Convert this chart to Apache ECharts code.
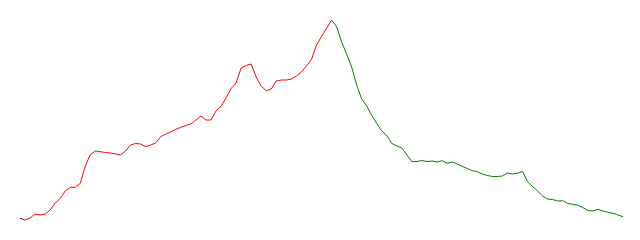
<!DOCTYPE html>
<html>
<head>
<meta charset="utf-8">
<script src="https://cdn.jsdelivr.net/npm/echarts@6/dist/echarts.min.js"></script>
<style>html,body{margin:0;padding:0;background:#fff;}#c{width:640px;height:240px;}</style>
</head>
<body>
<div id="c"></div>
<script>
// sample index (x) and value (height above the chart bottom)
const heights = [
  21.7, 20, 22, 26, 25, 26, 30, 37, 41.5, 49,
  52.7, 52.7, 56.7, 74, 85.5, 89, 88.3, 87.5, 87, 86,
  85, 89, 95, 96.5, 96, 93.3, 95, 97, 103.3, 106,
  108, 110.7, 112.7, 114.5, 116, 120, 124, 120, 120, 129,
  133.5, 142, 151.5, 157, 172, 174.5, 176, 163, 154, 149.3,
  151, 159, 160, 160, 161, 164, 168, 174, 180.5, 195,
  203.5, 211.5, 220, 213.5, 198, 186, 173, 155, 141, 134,
  124.5, 116.5, 109, 104.5, 96.5, 94, 92, 85, 78.3, 78.5,
  79.5, 78.5, 79, 78, 79.3, 76.7, 78, 76, 73.7, 71.5,
  69.3, 68.3, 66, 64.5, 63.5, 63.5, 64, 67, 66, 66.7,
  68.5, 58.5, 53.5, 49, 44, 41, 40.5, 39, 39.3, 36.5,
  35.7, 34.7, 32.5, 29.5, 29, 30.7, 29, 27.7, 26.7, 25,
  23.3
];
const peakIndex = 62;
const blueEnd = 0.4;

const data = heights.map((v, i) => [i, v]);

const chart = echarts.init(document.getElementById('c'), null, {renderer: 'canvas'});
chart.setOption({
  animation: false,
  backgroundColor: '#ffffff',
  grid: {left: 20, right: 17, top: 0, bottom: 0},
  xAxis: {type: 'value', min: 0, max: heights.length - 1, show: false},
  yAxis: {type: 'value', min: 0, max: 240, show: false},
  visualMap: {
    type: 'piecewise',
    show: false,
    dimension: 0,
    pieces: [
      {lte: blueEnd, color: '#0000ff'},
      {gt: blueEnd, lte: peakIndex, color: '#ff0000'},
      {gt: peakIndex, color: '#008000'}
    ]
  },
  series: [{
    type: 'line',
    data: data,
    showSymbol: false,
    symbol: 'none',
    lineStyle: {width: 1}
  }]
});
</script>
</body>
</html>
